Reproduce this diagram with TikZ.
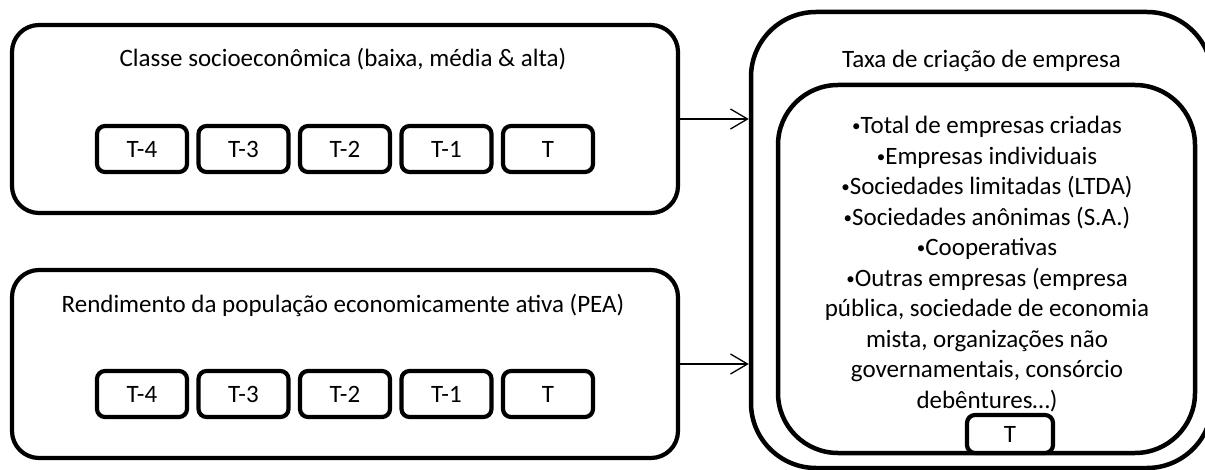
\documentclass[tikz,border=0pt]{standalone}
\usepackage{fontspec}
\setmainfont{Carlito}
\usepackage{tikz}
\usetikzlibrary{arrows.meta,positioning}
\tikzset{
  groupbox/.style={draw,line width=4.2pt,rounded corners=27pt,
    minimum width=666pt,minimum height=188pt},
  periodbox/.style={draw,line width=4.2pt,rounded corners=8pt,fill=white,
    minimum width=90pt,minimum height=46pt},
  roundbox/.style={draw,line width=4.5pt,rounded corners=#1},
  boxlabel/.style={font=\fontsize{25}{30.5}\selectfont},
  linkarrow/.style={-{Straight Barb[length=17pt,width=20pt,line width=1.3pt]},line width=1.3pt}
}
% small bullet in front of each item
\newcommand{\itemdot}{\raisebox{2pt}{\fontsize{17}{17}\selectfont•}}

\begin{document}
\begin{tikzpicture}[x=1pt,y=-1pt,boxlabel]
  \useasboundingbox (0,0) rectangle (1205,470);
  % left side: the two groups of periods
  \node[groupbox] (classbox) at (345,119) {};
  \node[anchor=base] (classtitle) at (343,67) {Classe socioeconômica (baixa, média \& alta)};
  \node[groupbox] (peabox) at (345,364) {};
  \node[anchor=base] (peatitle) at (343,313) {Rendimento da população economicamente ativa (PEA)};
  \foreach \lbl [count=\i] in {T-4,T-3,T-2,T-1,T}{
    \node[periodbox] (cls\i) at ({142+101.5*(\i-1)},149) {\lbl};
    \node[periodbox] (pea\i) at ({142+101.5*(\i-1)},394) {\lbl};
  }
  % right side: the outcome
  \node[roundbox=65pt,minimum width=461pt,minimum height=456pt] (outerbox) at (981.5,240) {};
  \node[anchor=base] (ratetitle) at (981.5,68) {Taxa de criação de empresa};
  \node[roundbox=60pt,minimum width=417pt,minimum height=368pt] (innerbox) at (986.5,269) {};
  \node[anchor=base,align=center] (ratelist) at (987,408)
    {\itemdot Total de empresas criadas\\
     \itemdot Empresas individuais\\
     \itemdot Sociedades limitadas (LTDA)\\
     \itemdot Sociedades anônimas (S.A.)\\
     \itemdot Cooperativas\\
     \itemdot Outras empresas (empresa\\
     pública, sociedade de economia\\
     mista, organizações não\\
     governamentais, consórcio\\
     debêntures…)};
  \node[periodbox,minimum width=86pt,minimum height=38pt] (ratet) at (1010,434) {T};
  \draw[linkarrow] (classbox.east) -- (classbox.east -| outerbox.west);
  \draw[linkarrow] (peabox.east) -- (peabox.east -| outerbox.west);
\end{tikzpicture}
\end{document}
